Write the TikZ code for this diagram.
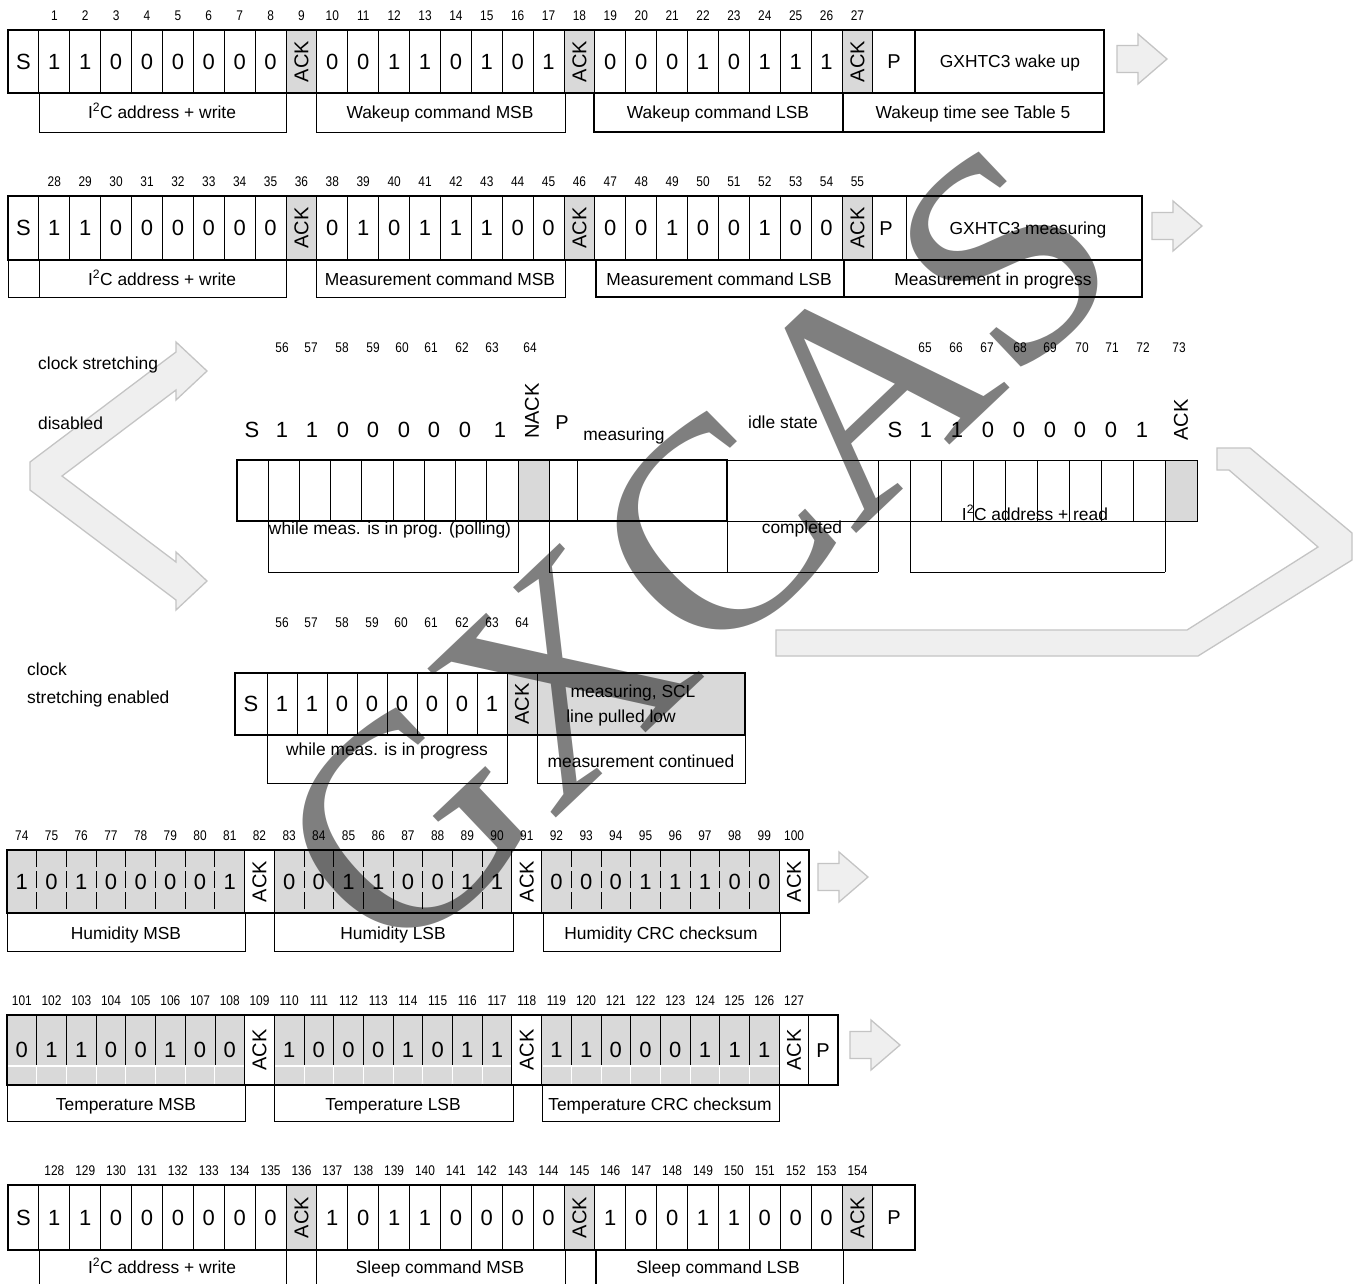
\documentclass[tikz,border=0pt]{standalone}
\usepackage{fontspec}
\setmainfont{Liberation Sans}
\newfontfamily\numfont[FakeStretch=0.85]{Liberation Sans}
\newfontfamily\wmfont{Liberation Serif}
\definecolor{ackgray}{HTML}{D9D9D9}
\definecolor{arrfill}{HTML}{EFEFEF}
\definecolor{arrline}{HTML}{C4C4C4}
\pgfdeclarelayer{bg}
\pgfdeclarelayer{wm}
\pgfsetlayers{bg,main,wm}
\tikzset{
  ln/.style={draw=black,line width=0.9pt},
  thk/.style={draw=black,line width=2.8pt},
  med/.style={draw=black,line width=1.9pt},
  bit/.style={font=\fontsize{22}{24}\selectfont,inner sep=0pt,anchor=base,yshift=-7.9pt},
  pbit/.style={font=\fontsize{20}{22}\selectfont,inner sep=0pt,anchor=base,yshift=-7.2pt},
  acktxt/.style={font=\fontsize{20}{22}\selectfont,inner sep=0pt,rotate=90},
  num/.style={font=\numfont\fontsize{14}{16}\selectfont,inner sep=0pt,anchor=base,yshift=-5pt},
  lbl/.style={font=\fontsize{17.4}{19}\selectfont,inner sep=0pt,anchor=base,yshift=-6.2pt},
  lblw/.style={lbl,anchor=base west},
  barrow/.style={fill=arrfill,draw=arrline,line width=1.3pt,line join=miter},
  wmark/.style={font=\wmfont\fontsize{300}{300}\selectfont,text=black,text opacity=0.5,
    inner sep=0pt,anchor=base,rotate=43.5}
}
% #1 prefix, #2 x0, #3 width, #4 ytop, #5 ybot, #6 list, #7 ack fill, #8 bit fill
\newcommand\rowcells[8]{%
  \foreach \c [count=\i from 0] in {#6} {%
    \pgfmathsetmacro\xa{#2+\i*#3}%
    \pgfmathsetmacro\xc{#2+(\i+0.5)*#3}%
    \pgfmathsetmacro\xb{#2+(\i+1)*#3}%
    \ifnum\c=2\relax
      \begin{pgfonlayer}{bg}\fill[#7] (\xa,#4) rectangle (\xb,#5);\end{pgfonlayer}
      \node[acktxt] (#1\i) at (\xc,{(#4+#5)/2}) {ACK};
    \else
      \begin{pgfonlayer}{bg}\fill[#8] (\xa,#4) rectangle (\xb,#5);\end{pgfonlayer}
      \node[bit] (#1\i) at (\xc,{(#4+#5)/2}) {\ifcase\c\relax 0\or 1\or\or S\fi};
    \fi
  }%
}
% #1 prefix, #2 x0, #3 width, #4 y, #5 list
\newcommand\rownums[5]{%
  \foreach \n [count=\i from 0] in {#5} {%
    \pgfmathsetmacro\xc{#2+(\i+0.5)*#3}%
    \node[num] (#1\i) at (\xc,#4) {\n};
  }%
}
\newcommand\blockarrow[3]{% name, x, y
  \draw[barrow] (#2,#3-13.5) -- (#2+21,#3-13.5) -- (#2+21,#3-25) -- (#2+50,#3)
    -- (#2+21,#3+25) -- (#2+21,#3+13.5) -- (#2,#3+13.5) -- cycle;
  \coordinate (#1) at (#2+25,#3);
}
\begin{document}
\begin{tikzpicture}[x=1pt,y=-1pt]
\useasboundingbox (0,0) rectangle (1356,1283);
\begin{pgfonlayer}{bg}
\fill[white] (0,0) rectangle (1356,1283);
\end{pgfonlayer}

% ---------------- Row 1: wake up ----------------
\def\wA{30.89}
\rownums{na}{8}{\wA}{15}{ ,1,2,3,4,5,6,7,8,9,10,11,12,13,14,15,16,17,18,19,20,21,22,23,24,25,26,27}
\rowcells{ra}{8}{\wA}{30}{93}{3,1,1,0,0,0,0,0,0,2,0,0,1,1,0,1,0,1,2,0,0,0,1,0,1,1,1,2}{ackgray}{white}
\foreach \k in {1,...,28} \draw[ln] ({8+\k*\wA},30) -- ({8+\k*\wA},93);
\node[pbit] (raP) at (894,61.5) {P};
\node[lbl] (raW) at (1010,61.5) {GXHTC3 wake up};
\draw[thk] (915,30) -- (915,93);
\draw[thk] (8,30) rectangle (1104,93);
\draw[ln] (39,93) -- (39,132) -- (286,132) -- (286,93);
\draw[ln] (316,93) -- (316,132) -- (565,132) -- (565,93);
\draw[med] (594,93) -- (594,132) -- (843,132);
\draw[thk] (843,93) -- (843,132) -- (1104,132) -- (1104,93);
\node[lbl] (laa) at (162,112) {I\textsuperscript{2}C address + write};
\node[lbl] (lab) at (440,112) {Wakeup command MSB};
\node[lbl] (lac) at (718,112) {Wakeup command LSB};
\node[lbl] (lad) at (973,112) {Wakeup time see Table 5};
\blockarrow{arA}{1117}{59}

% ---------------- Row 2: measurement command ----------------
\rownums{nb}{8}{\wA}{181}{ ,28,29,30,31,32,33,34,35,36,38,39,40,41,42,43,44,45,46,47,48,49,50,51,52,53,54,55}
\rowcells{rb}{8}{\wA}{196}{260}{3,1,1,0,0,0,0,0,0,2,0,1,0,1,1,1,0,0,2,0,0,1,0,0,1,0,0,2}{ackgray}{white}
\foreach \k in {1,...,28} \draw[ln] ({8+\k*\wA},196) -- ({8+\k*\wA},260);
\draw[ln] (906,196) -- (906,260);
\node[pbit] (rbP) at (886,228) {P};
\node[lbl] (rbW) at (1028,228) {GXHTC3 measuring};
\draw[thk] (8,196) rectangle (1142,260);
\draw[ln] (8,260) -- (8,297) -- (286,297) -- (286,260);
\draw[ln] (39,260) -- (39,297);
\draw[ln] (316,260) -- (316,297) -- (565,297) -- (565,260);
\draw[med] (596,260) -- (596,297) -- (1142,297) -- (1142,260);
\draw[med] (844,260) -- (844,297);
\node[lbl] (lba) at (162,279) {I\textsuperscript{2}C address + write};
\node[lbl] (lbb) at (440,279) {Measurement command MSB};
\node[lbl] (lbc) at (719,279) {Measurement command LSB};
\node[lbl] (lbd) at (993,279) {Measurement in progress};
\blockarrow{arB}{1152}{226}

% ---------------- Clock stretching disabled ----------------
\draw[barrow] (30,462) -- (176,352) -- (176,342) -- (207,371) -- (176,400) -- (176,390)
  -- (62,476) -- (176,562) -- (176,552) -- (207,581) -- (176,610) -- (176,600) -- (30,490) -- cycle;
\draw[barrow] (1217,448) -- (1250,448) -- (1352,533) -- (1352,560) -- (1198,656) -- (776,656)
  -- (776,630) -- (1187,630) -- (1318,547) -- (1229,470) -- (1217,470) -- cycle;
\node[lblw] (csd1) at (38,363) {clock stretching};
\node[lblw] (csd2) at (38,423) {disabled};
% numbers
\foreach \n/\x in {56/282,57/311,58/342,59/373,60/402,61/431,62/462,63/492,64/530}
  \node[num] (nc\n) at (\x,347) {\n};
\foreach \n/\x in {65/925,66/956,67/987,68/1020,69/1050,70/1082,71/1112,72/1143,73/1179}
  \node[num] (nc\n) at (\x,347) {\n};
% bit texts
\foreach \t/\x [count=\i] in {S/252,1/282,1/312,0/343,0/373,0/404,0/434,0/465,1/500}
  \node[bit] (cdl\i) at (\x,430) {\t};
\node[acktxt] (cdnack) at (532,411) {NACK};
\node[pbit] (cdP) at (562,422) {P};
\node[lbl] (cdmeas) at (624,434) {measuring};
\node[lbl] (cdidle) at (783,422) {idle state};
\foreach \t/\x [count=\i] in {S/895,1/926,1/957,0/988,0/1019,0/1050,0/1080,0/1111,1/1142}
  \node[bit] (cdr\i) at (\x,430) {\t};
\node[acktxt] (cdack) at (1181,420) {ACK};
% boxes
\begin{pgfonlayer}{bg}
  \fill[ackgray] (518,460) rectangle (549,521);
  \fill[ackgray] (1165,460) rectangle (1197,521);
\end{pgfonlayer}
\foreach \x in {268,299.25,330.5,361.75,393,424.25,455.5,486.75,518,549,577}
  \draw[ln] (\x,460) -- (\x,521);
\draw[ln] (727,460) -- (1197,460) -- (1197,521) -- (727,521);
\foreach \x in {941.9,973.75,1005.6,1037.5,1069.4,1101.25,1133.1}
  \draw[ln] (\x,460) -- (\x,521);
\draw[ln] (878,460) -- (878,572);
\draw[ln] (910,460) -- (910,572);
\draw[ln] (1165,460) -- (1165,572);
\draw[ln] (268,521) -- (268,572) -- (518,572) -- (518,521);
\draw[ln] (549,521) -- (549,572) -- (878,572);
\draw[ln] (727,521) -- (727,572);
\draw[ln] (910,572) -- (1165,572);
\draw[thk] (237,460) rectangle (727,521);
\node[lbl] (cdl) at (390,528) {while meas. is in prog. (polling)};
\node[lbl] (cdc) at (802,527) {completed};
\node[lbl] (cdr) at (1035,514) {I\textsuperscript{2}C address + read};

% ---------------- Clock stretching enabled ----------------
\node[lblw] (cse1) at (27,669) {clock};
\node[lblw] (cse2) at (27,697) {stretching enabled};
\foreach \n/\x in {56/282,57/311,58/342,59/372,60/401,61/431,62/462,63/492,64/522}
  \node[num] (ne\n) at (\x,622) {\n};
\begin{pgfonlayer}{bg}
  \fill[ackgray] (507,673) rectangle (745,735);
\end{pgfonlayer}
\foreach \x in {267,297,327,357,387,417,447,477,507,537}
  \draw[ln] (\x,673) -- (\x,735);
\foreach \t/\x [count=\i] in {S/251,1/282,1/312,0/342,0/372,0/402,0/432,0/462,1/492}
  \node[bit] (ce\i) at (\x,704) {\t};
\node[acktxt] (ceack) at (522,704) {ACK};
\node[lbl] (cem1) at (633,691) {measuring, SCL};
\node[lbl] (cem2) at (621,716) {line pulled low};
\draw[thk] (235,673) rectangle (745,735);
\draw[ln] (267,735) -- (267,783) -- (507,783) -- (507,735);
\draw[ln] (537,735) -- (537,783) -- (745,783) -- (745,735);
\node[lbl] (cel) at (387,749) {while meas. is in progress};
\node[lbl] (cer) at (641,761) {measurement continued};

% ---------------- Humidity ----------------
\def\wB{29.7}
\rownums{nh}{7}{\wB}{835}{74,75,76,77,78,79,80,81,82,83,84,85,86,87,88,89,90,91,92,93,94,95,96,97,98,99,100}
\rowcells{rh}{7}{\wB}{850}{913}{1,0,1,0,0,0,0,1,2,0,0,1,1,0,0,1,1,2,0,0,0,1,1,1,0,0,2}{white}{ackgray}
\foreach \k in {1,2,3,4,5,6,7,10,11,12,13,14,15,16,19,20,21,22,23,24,25}
  \draw[ln,dash pattern=on 17pt off 4pt] ({7+\k*\wB},850) -- ({7+\k*\wB},913);
\foreach \k in {8,9,17,18,26}
  \draw[ln] ({7+\k*\wB},850) -- ({7+\k*\wB},913);
\draw[thk] (7,850) rectangle (809,913);
\draw[ln] (7,913) -- (7,951) -- (245,951) -- (245,913);
\draw[ln] (274,913) -- (274,951) -- (513,951) -- (513,913);
\draw[ln] (543,913) -- (543,951) -- (780,951) -- (780,913);
\node[lbl] (lha) at (126,933) {Humidity MSB};
\node[lbl] (lhb) at (393,933) {Humidity LSB};
\node[lbl] (lhc) at (661,933) {Humidity CRC checksum};
\blockarrow{arH}{818}{877}

% ---------------- Temperature ----------------
\rownums{nt}{7}{\wB}{1000}{101,102,103,104,105,106,107,108,109,110,111,112,113,114,115,116,117,118,119,120,121,122,123,124,125,126,127}
\rowcells{rt}{7}{\wB}{1015}{1085}{0,1,1,0,0,1,0,0,2,1,0,0,0,1,0,1,1,2,1,1,0,0,0,1,1,1,2}{white}{ackgray}
\foreach \a/\b in {7/245,274/513,543/780}
  \draw[white,line width=1.6pt] (\a,1066) -- (\b,1066);
\foreach \k in {1,2,3,4,5,6,7,10,11,12,13,14,15,16,19,20,21,22,23,24,25} {
  \draw[ln,line width=0.7pt] ({7+\k*\wB},1015) -- ({7+\k*\wB},1065);
  \draw[white,line width=1pt] ({7+\k*\wB},1066) -- ({7+\k*\wB},1085);
}
\foreach \k in {8,9,17,18,26,27}
  \draw[ln] ({7+\k*\wB},1015) -- ({7+\k*\wB},1085);
\node[pbit] (rtP) at (823,1050) {P};
\draw[thk] (7,1015) rectangle (838,1085);
\draw[ln] (7,1085) -- (7,1121) -- (245,1121) -- (245,1085);
\draw[ln] (274,1085) -- (274,1121) -- (513,1121) -- (513,1085);
\draw[ln] (542,1085) -- (542,1121) -- (779,1121) -- (779,1085);
\node[lbl] (lta) at (126,1104) {Temperature MSB};
\node[lbl] (ltb) at (393,1104) {Temperature LSB};
\node[lbl] (ltc) at (660,1104) {Temperature CRC checksum};
\blockarrow{arT}{850}{1045}

% ---------------- Sleep ----------------
\rownums{ns}{8}{\wA}{1170}{ ,128,129,130,131,132,133,134,135,136,137,138,139,140,141,142,143,144,145,146,147,148,149,150,151,152,153,154}
\rowcells{rs}{8}{\wA}{1185}{1250}{3,1,1,0,0,0,0,0,0,2,1,0,1,1,0,0,0,0,2,1,0,0,1,1,0,0,0,2}{ackgray}{white}
\foreach \k in {1,...,28} \draw[ln] ({8+\k*\wA},1185) -- ({8+\k*\wA},1250);
\node[pbit] (rsP) at (894,1217) {P};
\draw[thk] (8,1185) rectangle (915,1250);
\foreach \x in {39,286,316,565,843} \draw[ln] (\x,1250) -- (\x,1290);
\draw[med] (596,1250) -- (596,1290);
\node[lbl] (lsa) at (162,1267) {I\textsuperscript{2}C address + write};
\node[lbl] (lsb) at (440,1267) {Sleep command MSB};
\node[lbl] (lsc) at (718,1267) {Sleep command LSB};

% ---------------- Watermark ----------------
\begin{pgfonlayer}{wm}
  \node[wmark] (wmG) at (473.2,897.4) {G};
  \node[wmark] (wmX) at (630.3,748.3) {X};
  \node[wmark] (wmC) at (781.4,605.0) {C};
  \node[wmark] (wmA) at (932.6,461.4) {A};
  \node[wmark] (wmS) at (1071.7,329.4) {S};
\end{pgfonlayer}
\end{tikzpicture}
\end{document}
